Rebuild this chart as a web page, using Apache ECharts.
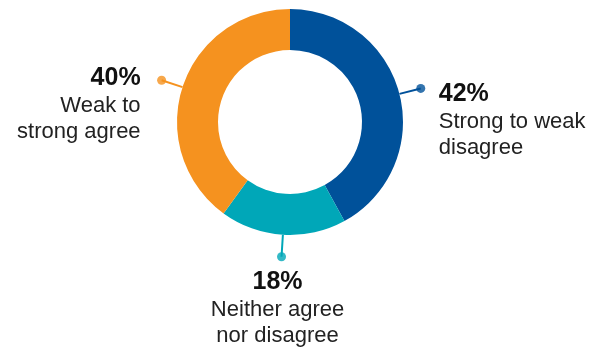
<!DOCTYPE html>
<html>
<head>
<meta charset="utf-8">
<script src="https://cdn.jsdelivr.net/npm/echarts@6/dist/echarts.min.js"></script>
<style>
html,body{margin:0;padding:0;background:#fff;}
#chart{width:602px;height:347px;}
</style>
</head>
<body>
<div id="chart"></div>
<script>
const categories = ['Strong to weak disagree', 'Neither agree nor disagree', 'Weak to strong agree'];
const labelTexts = [['Strong to weak', 'disagree'], ['Neither agree', 'nor disagree'], ['Weak to', 'strong agree']];
const values = [42, 18, 40];
const colors = ['#00519a', '#00a7b8', '#f5921f'];

const total = values.reduce((a, b) => a + b, 0);
const mids = [];
let cum = 0;
values.forEach(v => { mids.push((cum + v / 2) / total * 100); cum += v; });

const OUTER = 113, INNER = 72, LEAD = 22;
const CENTER = [290, 122];

const chart = echarts.init(document.getElementById('chart'));
chart.setOption({
  animation: false,
  polar: { center: CENTER, radius: OUTER + LEAD },
  radiusAxis: { min: 0, max: OUTER + LEAD, show: false },
  angleAxis: { min: 0, max: 100, startAngle: 90, clockwise: true, show: false },
  series: [
    {
      type: 'pie',
      center: CENTER,
      radius: [INNER, OUTER],
      startAngle: 90,
      clockwise: true,
      data: categories.map((c, i) => ({ name: c, value: values[i], itemStyle: { color: colors[i] },
        labelLine: { lineStyle: { color: colors[i], width: 2 } } })),
      label: {
        show: true,
        position: 'outside',
        formatter: p => '{pct|' + p.value + '%}\n' + labelTexts[p.dataIndex].map(t => '{txt|' + t + '}').join('\n'),
        rich: {
          pct: { fontFamily: 'Liberation Sans', fontSize: 25, fontWeight: 'bold', color: '#111', lineHeight: 30 },
          txt: { fontFamily: 'Liberation Sans', fontSize: 22, color: '#222', lineHeight: 26 }
        }
      },
      labelLine: { show: true, length: LEAD, length2: 0, smooth: false },
      labelLayout: function (p) {
        const pts = p.labelLinePoints;
        const e = pts[1];
        const i = p.dataIndex;
        if (i === 0) return { x: e[0] + 18, y: e[1] - 9, align: 'left', verticalAlign: 'top', labelLinePoints: pts };
        if (i === 1) return { x: e[0] - 4, y: e[1] + 10, align: 'center', verticalAlign: 'top', labelLinePoints: pts };
        return { x: e[0] - 21, y: e[1] - 17, align: 'right', verticalAlign: 'top', labelLinePoints: pts };
      },
      emphasis: { disabled: true }
    },
    {
      type: 'scatter',
      coordinateSystem: 'polar',
      symbolSize: 9,
      silent: true,
      data: mids.map((m, i) => ({ value: [OUTER + LEAD, m], itemStyle: { color: colors[i] } }))
    }
  ]
});
</script>
</body>
</html>
